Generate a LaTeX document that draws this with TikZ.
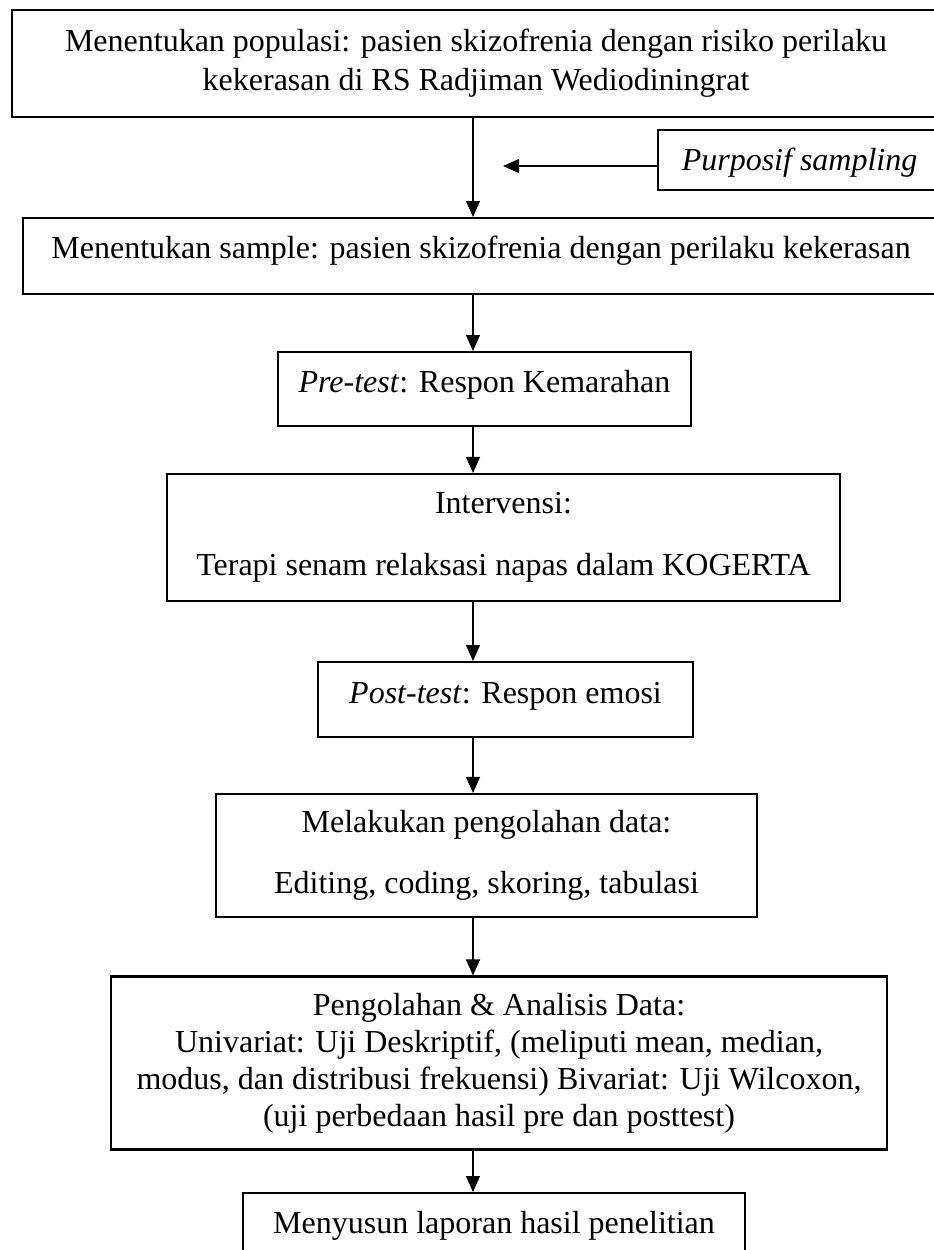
\documentclass[tikz,border=0pt]{standalone}
\usepackage{fontspec}
\setmainfont{Liberation Serif}
\usetikzlibrary{arrows.meta}
\begin{document}
\begin{tikzpicture}[x=1pt,y=-1pt,
  box/.style={draw, line width=2.1pt, align=center, inner sep=0pt,
    font=\fontsize{32}{37}\selectfont},
  flow/.style={line width=1.1pt, -{Triangle[length=16pt,width=14pt]}}]
\useasboundingbox (0,0) rectangle (934,1250);
\clip (0,0) rectangle (934,1250);
% boxes
\node[box, minimum width=928pt, minimum height=107pt] (b1) at (476,63.5)
  {Menentukan populasi: pasien skizofrenia dengan risiko perilaku\\[2pt]kekerasan di RS Radjiman Wediodiningrat};
\node[box, anchor=north west, minimum width=283pt, text height=40pt, text depth=20pt] (purp) at (657,129)
  {\itshape Purposif sampling};
\node[box, anchor=north west, minimum width=916pt, text height=40pt, text depth=36pt] (b2) at (22,217)
  {Menentukan sample: pasien skizofrenia dengan perilaku kekerasan};
\node[box, anchor=north west, minimum width=413pt, text height=40pt, text depth=34pt] (b3) at (277,351)
  {\textit{Pre-test}: Respon Kemarahan};
\node[box, minimum width=673pt, minimum height=127pt] (b4) at (503.5,537.5)
  {Intervensi:\\[25pt]Terapi senam relaksasi napas dalam KOGERTA};
\node[box, anchor=north west, minimum width=375pt, text height=41pt, text depth=34pt] (b5) at (317,661)
  {\textit{Post-test}: Respon emosi};
\node[box, minimum width=541pt, minimum height=123pt] (b6) at (486.5,855.5)
  {Melakukan pengolahan data:\\[24pt]Editing, coding, skoring, tabulasi};
\node[box, minimum width=776pt, minimum height=173pt] (b7) at (499,1063)
  {Pengolahan \& Analisis Data:\\Univariat: Uji Deskriptif, (meliputi mean, median,\\modus, dan distribusi frekuensi) Bivariat: Uji Wilcoxon,\\(uji perbedaan hasil pre dan posttest)};
\node[box, anchor=north west, minimum width=502pt, text height=40pt, text depth=36pt] (b8) at (242,1192)
  {Menyusun laporan hasil penelitian};
% connectors
\coordinate (ax) at (473,0);
\coordinate (pa) at (503,166);
\draw[flow] (b1.south -| ax) -- (b2.north -| ax);
\draw[flow] (pa -| purp.west) -- (pa);
\draw[flow] (b2.south -| ax) -- (b3.north -| ax);
\draw[flow] (b3.south -| ax) -- (b4.north -| ax);
\draw[flow] (b4.south -| ax) -- (b5.north -| ax);
\draw[flow] (b5.south -| ax) -- (b6.north -| ax);
\draw[flow] (b6.south -| ax) -- (b7.north -| ax);
\draw[flow] (b7.south -| ax) -- (b8.north -| ax);
\end{tikzpicture}
\end{document}
